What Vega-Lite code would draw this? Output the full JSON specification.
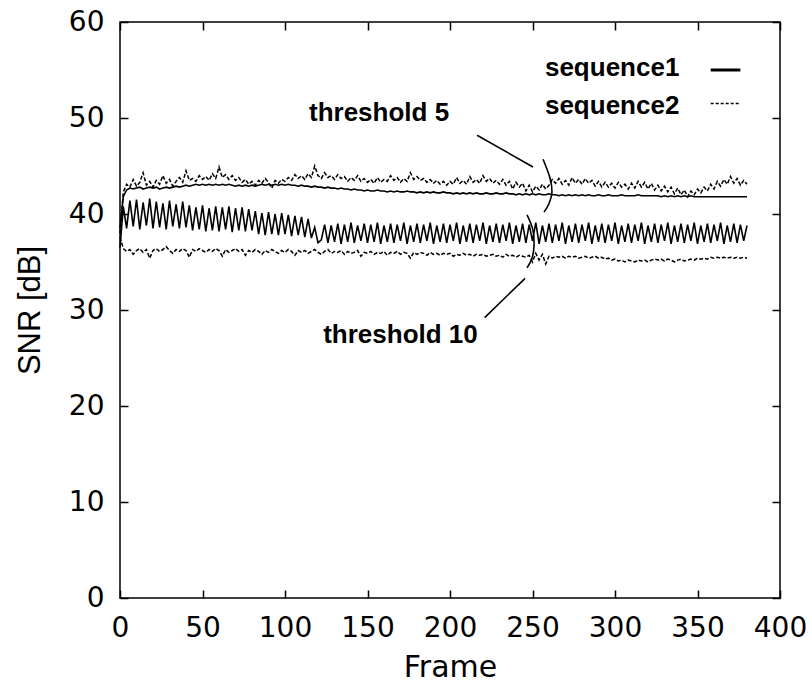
{
"$schema": "https://vega.github.io/schema/vega-lite/v6.json",
"width": 660, "height": 576,
"autosize": {"type": "none"},
"padding": {"left": 120, "top": 22, "right": 32, "bottom": 94},
"background": "white",
"config": {"view": {"stroke": "black", "strokeWidth": 1.5}, "font": "Liberation Sans",
 "axis": {"grid": false, "domain": false, "tickColor": "black", "tickWidth": 1.5, "tickSize": -8, "labelColor": "black", "titleColor": "black", "labelFont": "DejaVu Sans", "labelFontSize": 28, "titleFont": "DejaVu Sans", "titleFontSize": 30, "titleFontWeight": "normal", "labelFlush": false, "labelOverlap": false}},
"datasets": {
"snr": [
{"f":0,"a":38.5,"b":38.0,"c":36.5,"d":37.6},{"f":2,"a":41.8,"b":42.3,"c":40.8,"d":36.4},{"f":4,"a":42.5,"b":43.1,"c":38.5,"d":36.1},{"f":6,"a":42.7,"b":42.8,"c":41.4,"d":36.3},{"f":8,"a":42.6,"b":43.6,"c":38.7,"d":35.8},
{"f":10,"a":42.7,"b":42.9,"c":41.5,"d":36.2},{"f":12,"a":42.8,"b":43.3,"c":38.4,"d":36.4},{"f":14,"a":42.6,"b":44.3,"c":41.2,"d":36.0},{"f":16,"a":42.7,"b":43.0,"c":38.8,"d":36.3},{"f":18,"a":42.8,"b":43.4,"c":41.6,"d":35.4},
{"f":20,"a":42.7,"b":42.8,"c":38.5,"d":36.2},{"f":22,"a":42.8,"b":43.5,"c":41.3,"d":36.4},{"f":24,"a":42.6,"b":43.1,"c":38.6,"d":36.1},{"f":26,"a":42.7,"b":44.0,"c":41.1,"d":36.3},{"f":28,"a":42.8,"b":43.2,"c":38.4,"d":36.6},
{"f":30,"a":42.7,"b":43.6,"c":41.4,"d":36.2},{"f":32,"a":42.8,"b":42.9,"c":38.7,"d":35.9},{"f":34,"a":42.9,"b":43.4,"c":41.0,"d":36.3},{"f":36,"a":42.8,"b":43.8,"c":38.5,"d":36.1},{"f":38,"a":42.9,"b":43.3,"c":41.3,"d":36.4},
{"f":40,"a":43.0,"b":44.5,"c":38.6,"d":36.2},{"f":42,"a":42.9,"b":43.5,"c":40.9,"d":35.5},{"f":44,"a":43.0,"b":43.7,"c":38.3,"d":36.3},{"f":46,"a":43.1,"b":43.4,"c":40.7,"d":36.1},{"f":48,"a":43.0,"b":44.0,"c":38.4,"d":36.4},
{"f":50,"a":43.1,"b":43.6,"c":40.9,"d":36.2},{"f":52,"a":43.0,"b":43.9,"c":38.2,"d":36.0},{"f":54,"a":43.1,"b":43.5,"c":40.6,"d":36.3},{"f":56,"a":43.0,"b":44.2,"c":38.3,"d":36.1},{"f":58,"a":43.1,"b":43.7,"c":40.8,"d":36.4},
{"f":60,"a":43.0,"b":44.9,"c":38.2,"d":36.2},{"f":62,"a":43.1,"b":43.8,"c":40.7,"d":35.6},{"f":64,"a":43.0,"b":44.1,"c":38.4,"d":36.3},{"f":66,"a":43.1,"b":43.6,"c":40.8,"d":36.0},{"f":68,"a":43.0,"b":44.0,"c":38.1,"d":36.2},
{"f":70,"a":42.9,"b":43.5,"c":40.6,"d":36.4},{"f":72,"a":43.0,"b":43.8,"c":38.3,"d":36.1},{"f":74,"a":42.9,"b":43.3,"c":40.7,"d":36.3},{"f":76,"a":43.0,"b":43.6,"c":38.2,"d":35.7},{"f":78,"a":42.9,"b":43.1,"c":40.5,"d":36.2},
{"f":80,"a":43.0,"b":43.4,"c":38.3,"d":36.0},{"f":82,"a":42.9,"b":43.0,"c":40.3,"d":36.3},{"f":84,"a":43.0,"b":43.5,"c":37.9,"d":36.1},{"f":86,"a":43.1,"b":43.2,"c":40.1,"d":35.8},{"f":88,"a":43.0,"b":43.7,"c":37.8,"d":36.2},
{"f":90,"a":43.1,"b":43.3,"c":40.2,"d":36.0},{"f":92,"a":43.0,"b":42.7,"c":37.9,"d":36.3},{"f":94,"a":43.1,"b":43.5,"c":40.0,"d":36.1},{"f":96,"a":43.0,"b":43.2,"c":37.8,"d":35.9},{"f":98,"a":43.1,"b":43.6,"c":40.1,"d":36.2},
{"f":100,"a":43.0,"b":43.4,"c":37.9,"d":36.0},{"f":102,"a":43.1,"b":43.8,"c":39.9,"d":36.3},{"f":104,"a":43.0,"b":43.5,"c":37.7,"d":36.1},{"f":106,"a":43.0,"b":44.1,"c":39.8,"d":35.7},{"f":108,"a":42.9,"b":43.7,"c":37.8,"d":36.2},
{"f":110,"a":43.0,"b":44.0,"c":39.7,"d":36.0},{"f":112,"a":42.9,"b":43.6,"c":37.6,"d":36.2},{"f":114,"a":42.9,"b":44.2,"c":39.5,"d":35.9},{"f":116,"a":42.8,"b":43.8,"c":37.5,"d":36.1},{"f":118,"a":42.9,"b":45.0,"c":38.6,"d":36.3},
{"f":120,"a":42.8,"b":44.0,"c":37.0,"d":36.0},{"f":122,"a":42.8,"b":43.7,"c":37.3,"d":35.8},{"f":124,"a":42.7,"b":44.3,"c":38.9,"d":36.1},{"f":126,"a":42.8,"b":43.8,"c":37.0,"d":36.3},{"f":128,"a":42.7,"b":44.0,"c":38.8,"d":35.9},
{"f":130,"a":42.7,"b":43.6,"c":37.1,"d":36.1},{"f":132,"a":42.6,"b":44.1,"c":39.0,"d":36.0},{"f":134,"a":42.7,"b":43.7,"c":36.9,"d":36.2},{"f":136,"a":42.6,"b":43.9,"c":38.9,"d":35.8},{"f":138,"a":42.6,"b":43.4,"c":37.1,"d":36.1},
{"f":140,"a":42.5,"b":43.8,"c":39.1,"d":35.9},{"f":142,"a":42.6,"b":43.5,"c":37.0,"d":36.0},{"f":144,"a":42.5,"b":44.0,"c":38.8,"d":36.2},{"f":146,"a":42.5,"b":43.4,"c":37.2,"d":35.6},{"f":148,"a":42.4,"b":43.7,"c":39.0,"d":36.0},
{"f":150,"a":42.5,"b":43.3,"c":37.0,"d":35.9},{"f":152,"a":42.4,"b":43.6,"c":38.9,"d":36.1},{"f":154,"a":42.4,"b":43.2,"c":37.1,"d":35.8},{"f":156,"a":42.5,"b":43.8,"c":39.1,"d":36.0},{"f":158,"a":42.4,"b":43.3,"c":36.9,"d":35.9},
{"f":160,"a":42.4,"b":43.6,"c":38.8,"d":36.1},{"f":162,"a":42.3,"b":43.4,"c":37.1,"d":35.7},{"f":164,"a":42.4,"b":44.0,"c":39.0,"d":36.0},{"f":166,"a":42.3,"b":43.5,"c":37.0,"d":35.9},{"f":168,"a":42.4,"b":43.8,"c":38.9,"d":36.1},
{"f":170,"a":42.3,"b":43.3,"c":37.2,"d":35.8},{"f":172,"a":42.3,"b":43.7,"c":39.1,"d":36.0},{"f":174,"a":42.4,"b":43.4,"c":36.9,"d":35.9},{"f":176,"a":42.3,"b":44.3,"c":38.8,"d":35.4},{"f":178,"a":42.3,"b":43.6,"c":37.1,"d":36.0},
{"f":180,"a":42.2,"b":43.9,"c":39.0,"d":35.8},{"f":182,"a":42.3,"b":43.5,"c":37.0,"d":36.0},{"f":184,"a":42.2,"b":43.7,"c":38.9,"d":35.9},{"f":186,"a":42.3,"b":43.3,"c":37.2,"d":35.7},{"f":188,"a":42.2,"b":43.6,"c":39.1,"d":36.0},
{"f":190,"a":42.3,"b":43.2,"c":36.9,"d":35.8},{"f":192,"a":42.2,"b":43.5,"c":38.8,"d":35.9},{"f":194,"a":42.2,"b":43.1,"c":37.1,"d":35.7},{"f":196,"a":42.3,"b":43.4,"c":39.0,"d":35.9},{"f":198,"a":42.2,"b":43.0,"c":37.0,"d":35.8},
{"f":200,"a":42.2,"b":43.4,"c":38.9,"d":35.9},{"f":202,"a":42.1,"b":43.1,"c":37.2,"d":35.6},{"f":204,"a":42.2,"b":43.8,"c":39.1,"d":35.8},{"f":206,"a":42.1,"b":43.2,"c":36.9,"d":35.7},{"f":208,"a":42.2,"b":43.5,"c":38.8,"d":35.9},
{"f":210,"a":42.1,"b":43.1,"c":37.1,"d":35.7},{"f":212,"a":42.2,"b":43.9,"c":39.0,"d":35.8},{"f":214,"a":42.1,"b":43.3,"c":37.0,"d":35.6},{"f":216,"a":42.2,"b":43.6,"c":38.9,"d":35.8},{"f":218,"a":42.1,"b":43.2,"c":37.2,"d":35.7},
{"f":220,"a":42.1,"b":44.0,"c":39.1,"d":35.8},{"f":222,"a":42.2,"b":43.4,"c":36.9,"d":35.6},{"f":224,"a":42.1,"b":43.7,"c":38.8,"d":35.7},{"f":226,"a":42.1,"b":43.2,"c":37.1,"d":35.8},{"f":228,"a":42.2,"b":43.5,"c":39.0,"d":35.6},
{"f":230,"a":42.1,"b":43.1,"c":37.0,"d":35.7},{"f":232,"a":42.1,"b":43.6,"c":38.9,"d":35.5},{"f":234,"a":42.2,"b":43.0,"c":37.2,"d":35.8},{"f":236,"a":42.1,"b":43.4,"c":39.1,"d":35.6},{"f":238,"a":42.1,"b":42.6,"c":36.9,"d":35.7},
{"f":240,"a":42.0,"b":43.3,"c":38.8,"d":35.5},{"f":242,"a":42.1,"b":42.8,"c":37.1,"d":35.7},{"f":244,"a":42.0,"b":43.2,"c":39.0,"d":35.6},{"f":246,"a":42.1,"b":42.4,"c":37.0,"d":35.5},{"f":248,"a":42.0,"b":43.0,"c":38.9,"d":35.7},
{"f":250,"a":42.1,"b":42.3,"c":37.2,"d":35.0},{"f":252,"a":42.0,"b":42.9,"c":39.1,"d":35.9},{"f":254,"a":42.1,"b":42.5,"c":36.9,"d":35.2},{"f":256,"a":42.0,"b":43.1,"c":38.8,"d":35.8},{"f":258,"a":42.0,"b":42.6,"c":37.1,"d":34.8},
{"f":260,"a":42.1,"b":43.0,"c":39.0,"d":35.6},{"f":262,"a":42.0,"b":43.6,"c":37.0,"d":35.4},{"f":264,"a":42.0,"b":43.2,"c":38.9,"d":35.6},{"f":266,"a":41.9,"b":43.7,"c":37.2,"d":35.5},{"f":268,"a":42.0,"b":43.1,"c":39.1,"d":35.6},
{"f":270,"a":41.9,"b":43.5,"c":36.9,"d":35.4},{"f":272,"a":42.0,"b":43.0,"c":38.8,"d":35.6},{"f":274,"a":41.9,"b":43.8,"c":37.1,"d":35.5},{"f":276,"a":42.0,"b":43.2,"c":39.0,"d":35.6},{"f":278,"a":41.9,"b":43.6,"c":37.0,"d":35.4},
{"f":280,"a":42.0,"b":43.1,"c":38.9,"d":35.5},{"f":282,"a":41.9,"b":43.7,"c":37.2,"d":35.6},{"f":284,"a":42.0,"b":43.2,"c":39.1,"d":35.4},{"f":286,"a":41.9,"b":43.5,"c":36.9,"d":35.5},{"f":288,"a":41.9,"b":42.9,"c":38.8,"d":35.6},
{"f":290,"a":42.0,"b":43.4,"c":37.1,"d":35.4},{"f":292,"a":41.9,"b":42.8,"c":39.0,"d":35.5},{"f":294,"a":41.9,"b":43.3,"c":37.0,"d":35.3},{"f":296,"a":42.0,"b":42.8,"c":38.9,"d":35.4},{"f":298,"a":41.9,"b":43.2,"c":37.2,"d":35.2},
{"f":300,"a":41.9,"b":42.7,"c":39.1,"d":35.3},{"f":302,"a":41.9,"b":43.3,"c":36.9,"d":35.1},{"f":304,"a":42.0,"b":42.8,"c":38.8,"d":35.2},{"f":306,"a":41.9,"b":43.1,"c":37.1,"d":35.0},{"f":308,"a":41.9,"b":42.6,"c":39.0,"d":35.2},
{"f":310,"a":41.9,"b":43.2,"c":37.0,"d":35.1},{"f":312,"a":41.9,"b":42.7,"c":38.9,"d":35.0},{"f":314,"a":42.0,"b":43.4,"c":37.2,"d":35.2},{"f":316,"a":41.9,"b":42.8,"c":39.1,"d":35.1},{"f":318,"a":41.9,"b":43.3,"c":36.9,"d":35.2},
{"f":320,"a":41.9,"b":42.6,"c":38.8,"d":35.0},{"f":322,"a":41.9,"b":43.2,"c":37.1,"d":35.2},{"f":324,"a":41.9,"b":42.5,"c":39.0,"d":35.3},{"f":326,"a":41.9,"b":43.0,"c":37.0,"d":35.2},{"f":328,"a":41.8,"b":42.4,"c":38.9,"d":35.3},
{"f":330,"a":41.9,"b":42.9,"c":37.2,"d":35.1},{"f":332,"a":41.8,"b":42.3,"c":39.1,"d":35.3},{"f":334,"a":41.9,"b":42.8,"c":36.9,"d":35.2},{"f":336,"a":41.8,"b":42.1,"c":38.8,"d":35.0},{"f":338,"a":41.9,"b":42.7,"c":37.1,"d":35.2},
{"f":340,"a":41.8,"b":42.0,"c":39.0,"d":35.3},{"f":342,"a":41.9,"b":42.5,"c":37.0,"d":35.1},{"f":344,"a":41.8,"b":41.8,"c":38.9,"d":35.2},{"f":346,"a":41.9,"b":42.4,"c":37.2,"d":35.3},{"f":348,"a":41.8,"b":42.0,"c":39.1,"d":35.2},
{"f":350,"a":41.8,"b":42.6,"c":36.9,"d":35.4},{"f":352,"a":41.8,"b":42.2,"c":38.8,"d":35.3},{"f":354,"a":41.8,"b":42.8,"c":37.1,"d":35.4},{"f":356,"a":41.8,"b":42.4,"c":39.0,"d":35.3},{"f":358,"a":41.8,"b":43.1,"c":37.0,"d":35.5},
{"f":360,"a":41.8,"b":42.6,"c":38.9,"d":35.4},{"f":362,"a":41.8,"b":43.4,"c":37.2,"d":35.5},{"f":364,"a":41.8,"b":42.9,"c":39.1,"d":35.4},{"f":366,"a":41.8,"b":43.6,"c":36.9,"d":35.5},{"f":368,"a":41.8,"b":43.1,"c":38.8,"d":35.4},
{"f":370,"a":41.8,"b":43.9,"c":37.1,"d":35.5},{"f":372,"a":41.8,"b":43.2,"c":39.0,"d":35.4},{"f":374,"a":41.8,"b":43.7,"c":37.0,"d":35.5},{"f":376,"a":41.8,"b":43.0,"c":38.9,"d":35.4},{"f":378,"a":41.8,"b":43.5,"c":37.2,"d":35.5},
{"f":380,"a":41.8,"b":43.1,"c":38.8,"d":35.4}
],
"ann": [
{"g":"p5","o":0,"x":216.4,"y":48.2},{"g":"p5","o":1,"x":250.3,"y":44.9},
{"g":"arc5","o":0,"x":256.4,"y":45.7},{"g":"arc5","o":1,"x":260.6,"y":43.75},{"g":"arc5","o":2,"x":261.8,"y":42.3},{"g":"arc5","o":3,"x":260.0,"y":41.1},{"g":"arc5","o":4,"x":257.0,"y":40.2},
{"g":"arc10","o":0,"x":246.7,"y":39.9},{"g":"arc10","o":1,"x":250.3,"y":38.3},{"g":"arc10","o":2,"x":250.9,"y":36.6},{"g":"arc10","o":3,"x":249.7,"y":35.4},{"g":"arc10","o":4,"x":246.7,"y":34.4},
{"g":"p10","o":0,"x":245.5,"y":33.3},{"g":"p10","o":1,"x":221.0,"y":29.2}
]
},
"layer": [
{"data": {"name": "snr"}, "mark": {"type": "line", "color": "black", "strokeWidth": 1.6},
 "encoding": {
  "x": {"field": "f", "type": "quantitative", "scale": {"domain": [0, 400], "nice": false},
        "axis": {"orient": "bottom", "values": [0,50,100,150,200,250,300,350,400], "title": "Frame", "labelPadding": 24, "titlePadding": 10}},
  "y": {"field": "a", "type": "quantitative", "scale": {"domain": [0, 60], "nice": false},
        "axis": {"orient": "left", "values": [0,10,20,30,40,50,60], "title": "SNR [dB]", "titleFont": "Liberation Sans", "titleFontSize": 31, "labelPadding": 24, "titlePadding": 22}}}},
{"data": {"name": "snr"}, "mark": {"type": "line", "color": "black", "strokeWidth": 1.5, "strokeDash": [4, 2]},
 "encoding": {"x": {"field": "f", "type": "quantitative", "axis": null}, "y": {"field": "b", "type": "quantitative", "axis": null}}},
{"data": {"name": "snr"}, "mark": {"type": "line", "color": "black", "strokeWidth": 1.6},
 "encoding": {"x": {"field": "f", "type": "quantitative", "axis": null}, "y": {"field": "c", "type": "quantitative", "axis": null}}},
{"data": {"name": "snr"}, "mark": {"type": "line", "color": "black", "strokeWidth": 1.5, "strokeDash": [4, 2]},
 "encoding": {"x": {"field": "f", "type": "quantitative", "axis": null}, "y": {"field": "d", "type": "quantitative", "axis": null}}},
{"data": {"name": "ann"}, "mark": {"type": "line", "color": "black", "strokeWidth": 1.6, "interpolate": "cardinal"},
 "encoding": {
  "x": {"field": "x", "type": "quantitative", "axis": {"orient": "top", "values": [0,50,100,150,200,250,300,350,400], "labels": false, "title": null}},
  "y": {"field": "y", "type": "quantitative", "axis": {"orient": "right", "values": [0,10,20,30,40,50,60], "labels": false, "title": null}},
  "detail": {"field": "g"}, "order": {"field": "o"}}},
{"data": {"values": [{}]}, "mark": {"type": "text", "text": "threshold 5", "fontSize": 26, "fontWeight": "bold", "align": "center", "baseline": "middle", "color": "black"},
 "encoding": {"x": {"datum": 157, "type": "quantitative", "axis": null}, "y": {"datum": 50.5, "type": "quantitative", "axis": null}}},
{"data": {"values": [{}]}, "mark": {"type": "text", "text": "threshold 10", "fontSize": 26, "fontWeight": "bold", "align": "center", "baseline": "middle", "color": "black"},
 "encoding": {"x": {"datum": 170, "type": "quantitative", "axis": null}, "y": {"datum": 27.4, "type": "quantitative", "axis": null}}},
{"data": {"values": [{}]}, "mark": {"type": "text", "text": "sequence1", "fontSize": 26, "fontWeight": "bold", "align": "right", "baseline": "middle", "color": "black"},
 "encoding": {"x": {"datum": 339, "type": "quantitative", "axis": null}, "y": {"datum": 55.2, "type": "quantitative", "axis": null}}},
{"data": {"values": [{}]}, "mark": {"type": "text", "text": "sequence2", "fontSize": 26, "fontWeight": "bold", "align": "right", "baseline": "middle", "color": "black"},
 "encoding": {"x": {"datum": 339, "type": "quantitative", "axis": null}, "y": {"datum": 51.3, "type": "quantitative", "axis": null}}},
{"data": {"values": [{}]}, "mark": {"type": "rule", "color": "black", "strokeWidth": 3},
 "encoding": {"x": {"datum": 358, "type": "quantitative", "axis": null}, "x2": {"datum": 376}, "y": {"datum": 55.0, "type": "quantitative", "axis": null}}},
{"data": {"values": [{}]}, "mark": {"type": "rule", "color": "black", "strokeWidth": 1.5, "strokeDash": [3, 2]},
 "encoding": {"x": {"datum": 358, "type": "quantitative", "axis": null}, "x2": {"datum": 376}, "y": {"datum": 51.5, "type": "quantitative", "axis": null}}}
],
"resolve": {"axis": {"x": "independent", "y": "independent"}}
}
